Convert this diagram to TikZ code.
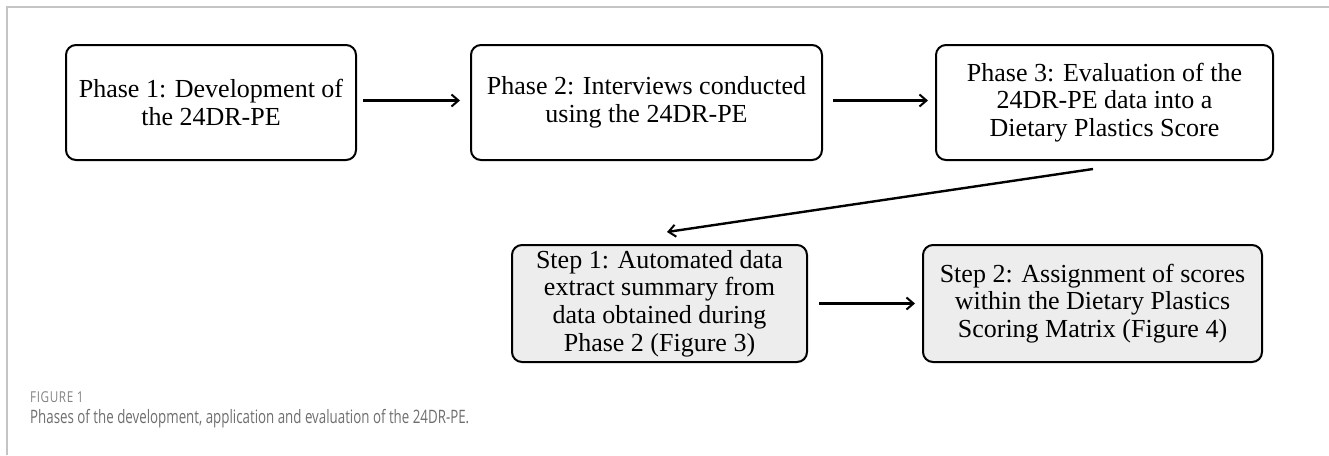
\documentclass[tikz,border=0pt]{standalone}
\usepackage{fontspec}
\setmainfont{Liberation Serif}
\newfontfamily\capfont[FakeStretch=0.72]{Open Sans}
\newfontfamily\figfont[FakeStretch=0.78,LetterSpace=4]{Open Sans}
\usetikzlibrary{arrows.meta,calc}
\definecolor{stepgray}{HTML}{EDEDED}
\definecolor{framegray}{HTML}{C4C4C4}
\definecolor{capgray}{HTML}{6E6E6E}
\begin{document}
\begin{tikzpicture}[x=1pt, y=-1pt,
		phasebox/.style={draw, line width=2pt, rounded corners=10pt, align=center,
			minimum height=115pt, inner sep=0pt,
			font=\fontsize{26}{27.7}\selectfont},
		stepbox/.style={phasebox, fill=stepgray, minimum height=117pt},
		flow/.style={line width=2.4pt, -{Straight Barb[length=7pt,width=12pt,line width=2pt]}}]
				\useasboundingbox (0,0) rectangle (1329,455);
				\coordinate (corner) at (7,7);
				\coordinate (right) at (1329,7);
				\coordinate (bottom) at (7,455);
				\draw[framegray, line width=1.4pt] (right) -- (corner) -- (bottom);
				% top row: the three phases
				\node[phasebox, minimum width=290pt] (p1) at (211,102.5) {Phase 1: Development of\\the 24DR-PE};
				\node[phasebox, minimum width=351pt] (p2) at (646.5,102.5) {Phase 2: Interviews conducted\\using the 24DR-PE};
				\node[phasebox, minimum width=337pt] (p3) at (1104.5,102.5) {Phase 3: Evaluation of the\\24DR-PE data into a\\Dietary Plastics Score};
				% bottom row: the two steps of phase 3
				\node[stepbox, minimum width=295pt] (s1) at (659.5,303.5) {Step 1: Automated data\\extract summary from\\data obtained during\\Phase 2 (Figure 3)};
				\node[stepbox, minimum width=339pt] (s2) at (1092.5,303.5) {Step 2: Assignment of scores\\within the Dietary Plastics\\Scoring Matrix (Figure 4)};
				\coordinate (d3) at ($(p3.south)+(-11.5,8)$);
				\coordinate (d1) at ($(s1.north)+(7.5,-12)$);
				\draw[flow, shorten <=6pt, shorten >=10pt] ([yshift=2pt]p1.east) -- ([yshift=2pt]p2.west);
				\draw[flow, shorten <=10pt, shorten >=7pt] ([yshift=2pt]p2.east) -- ([yshift=2pt]p3.west);
				\draw[flow] (d3) -- (d1);
				\draw[flow, shorten <=11pt, shorten >=7pt] (s1.east) -- (s2.west);
				% caption
				\node[anchor=base west, inner sep=0pt, text=capgray!85, font=\figfont\fontsize{15}{17}\selectfont] (fig) at (30,402) {FIGURE 1};
				\node[anchor=base west, inner sep=0pt, text=capgray, font=\capfont\fontsize{18.5}{21}\selectfont] (cap) at (30,423) {Phases of the development, application and evaluation of the 24DR-PE.};
			\end{tikzpicture}
\end{document}
